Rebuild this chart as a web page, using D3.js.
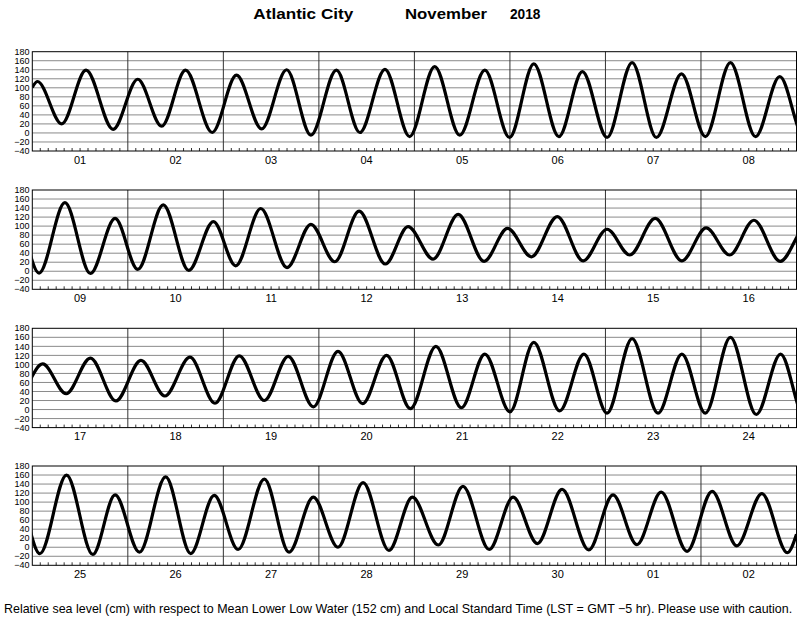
<!DOCTYPE html>
<html><head><meta charset="utf-8">
<script src="https://cdn.jsdelivr.net/npm/d3@7"></script>
<style>body{margin:0;background:#fff}svg{display:block;font-family:"Liberation Sans",Arial,Helvetica,sans-serif}</style>
</head><body><svg id="c" width="800" height="618"></svg>
<script>
// ---------- data ----------
const titleStation = "Atlantic City";
const titleMonth = "November";
const titleYear = "2018";
const footerText = "Relative sea level (cm) with respect to Mean Lower Low Water (152 cm) and Local Standard Time (LST = GMT \u22125 hr). Please use with caution.";
const dayLabels = [
  ["01","02","03","04","05","06","07","08"],
  ["09","10","11","12","13","14","15","16"],
  ["17","18","19","20","21","22","23","24"],
  ["25","26","27","28","29","30","01","02"]
];
const yTicks = [-40,-20,0,20,40,60,80,100,120,140,160,180];
// high / low water extremes: hours from 1 Nov 00:00 LST, heights in cm
const tideHours = [
  0,1.3,7.4,13.5,20.3,26.5,32.5,38.5,45.2,51.3,57.6,63.9,70.0,76.4,82.3,88.6,94.8,101.1,107.4,113.7,119.9,126.0,132.3,138.2,144.4,150.7,156.8,163.1,169.1,175.4,181.7,187.8,
  193.7,200.2,206.6,212.8,218.5,224.9,231.3,237.5,243.1,249.4,256.0,262.0,268.0,274.1,280.7,286.4,292.7,299.0,305.5,311.4,317.4,323.9,330.4,336.4,342.1,348.5,355.2,361.3,367.2,373.3,379.9,
  386.6,392.5,398.6,405.0,411.3,417.3,423.6,429.9,436.0,442.3,448.3,454.6,460.8,467.0,473.0,479.0,485.4,491.8,497.7,504.0,510.0,516.5,522.6,528.4,534.7,541.2,547.2,553.1,559.4,565.9,572.0,
  577.9,584.6,591.2,596.8,602.9,609.5,615.8,621.7,627.7,634.3,640.5,646.6,652.8,659.1,665.6,671.5,678.0,684.2,690.8,696.8,702.9,709.1,715.8,721.9,727.9,734.0,740.5,746.8,753.0,759.3,765.7,768
];
const tideHeights = [
  101,114,20,139,8,119,15,139,1,128,9,140,-5,139,1,141,-8,147,-5,139,-10,153,-8,136,-10,156,-10,131,-8,156,-8,125,
  -4,152,-5,117,4,147,2,110,12,139,8,104,21,133,16,99,27,126,22,95,32,121,23,93,36,117,23,96,36,113,22,
  101,35,114,19,109,30,116,14,119,20,118,6,129,13,120,2,140,4,123,-5,149,-3,123,-8,157,-8,123,-8,160,-11,123,
  -14,160,-16,116,-11,156,-14,115,-5,151,-11,111,0,143,-7,111,5,135,-5,111,8,128,-6,116,6,122,-9,124,3,119,-12,29
];

// ---------- layout ----------
const svg = d3.select("#c");
const left = 32.3, right = 796.5;
const panelTops = [51.7, 190, 328.3, 466];
const panelH = 99.3;
const hoursPerPanel = 192;
const tide = tideHours.map((t,i)=>({t, h: tideHeights[i]}));

// title
const titleParts = [[titleStation,253.3,100],[titleMonth,405,82],[titleYear,510,30.5]];
titleParts.forEach(([txt,x0,len])=>{
  svg.append("text").attr("x",x0).attr("y",18.5).attr("font-size",14.5).attr("font-weight","bold")
    .attr("textLength",len).attr("lengthAdjust","spacingAndGlyphs").text(txt);
});

const fmt = d3.format("d");

panelTops.forEach((top, p) => {
  const t0 = p*hoursPerPanel, t1 = t0 + hoursPerPanel;
  const x = d3.scaleLinear().domain([t0,t1]).range([left,right]);
  const y = d3.scaleLinear().domain([-40,180]).range([top+panelH, top]);
  const g = svg.append("g");

  // horizontal grid
  g.selectAll(".hg").data(yTicks.slice(1,-1)).join("line")
    .attr("x1",left).attr("x2",right)
    .attr("y1",d=>y(d)).attr("y2",d=>y(d))
    .attr("stroke","#8a8a8a").attr("stroke-width",1);

  // minor ticks every 2 hours
  const minor = d3.range(t0+2, t1, 2).filter(h => (h % 24) !== 0);
  g.selectAll(".mt").data(minor).join("line")
    .attr("x1",d=>x(d)).attr("x2",d=>x(d))
    .attr("y1",top+panelH).attr("y2",top+panelH-3)
    .attr("stroke","#333").attr("stroke-width",1);

  // day dividers
  const days = d3.range(t0+24, t1, 24);
  g.selectAll(".dd").data(days).join("line")
    .attr("x1",d=>x(d)).attr("x2",d=>x(d))
    .attr("y1",top).attr("y2",top+panelH)
    .attr("stroke","#333").attr("stroke-width",1);

  // tide curve
  const clipId = "clip"+p;
  svg.append("clipPath").attr("id",clipId).append("rect")
    .attr("x",left).attr("y",top-5).attr("width",right-left).attr("height",panelH+10);
  const seg = tide.filter(d => d.t >= t0-14 && d.t <= t1+14);
  g.append("path").datum(seg)
    .attr("clip-path",`url(#${clipId})`)
    .attr("fill","none").attr("stroke","#000").attr("stroke-width",3.2)
    .attr("stroke-linejoin","round")
    .attr("d", d3.line().x(d=>x(d.t)).y(d=>y(d.h)).curve(d3.curveMonotoneX));

  // frame
  g.append("rect").attr("x",left).attr("y",top).attr("width",right-left).attr("height",panelH)
    .attr("fill","none").attr("stroke","#000").attr("stroke-width",1);

  // y labels
  g.selectAll(".yl").data(yTicks).join("text")
    .attr("x",29.5).attr("y",d=>y(d)).attr("dy","0.35em")
    .attr("text-anchor","end").attr("font-size",9).text(d=>fmt(d));

  // day labels
  g.selectAll(".dl").data(dayLabels[p]).join("text")
    .attr("x",(d,i)=>x(t0+i*24+12)).attr("y",top+panelH+12.5)
    .attr("text-anchor","middle").attr("font-size",11).text(d=>d);
});

// footer
const foot = svg.append("text").attr("x",4).attr("y",613).attr("font-size",10).text(footerText);
const w = foot.node().getComputedTextLength();
foot.attr("font-size", 10*789/w);
</script></body></html>
